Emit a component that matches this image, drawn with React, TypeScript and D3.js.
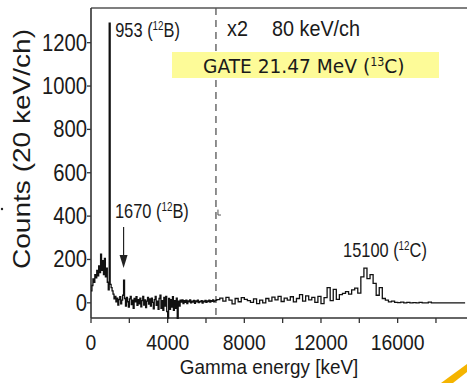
import React from 'react';
import * as d3 from 'd3';

const W = 467;
const H = 383;

// gamma spectrum below the dashed line (20 keV/ch), one value every 50 keV from 0
const lowStep = 50;
const lowCounts = [
  55, 80, 110, 95, 130, 115, 150, 125, 170, 140,
  225, 150, 195, 130, 205, 120, 160, 95, 60, 1290,
  85, 70, 55, 40, 18, 30, 5, 22, -10, 15,
  28, -5, 12, 35, 105, 20, -15, 25, 5, -20,
  18, 30, -8, 12, -25, 20, 5, 28, -12, 15,
  -5, 22, -18, 10, 30, -10, 14, -22, 8, 25,
  -6, 18, -15, 22, 2, -28, 15, 30, -12, 8,
  -30, 20, 35, -25, 10, -35, 25, -15, 30, -40,
  -70, 20, -30, 15, -20, 28, -35, 10, -25, 22,
  -75, 8, -15, 12, 3, 14, -4, 10, 2, 12,
  -3, 9, 4, 14, 0, 8, 3, 11, -2, 9,
  5, 12, 1, 7, 4, 10, -1, 8, 5, 11,
  2, 9, 6, 12, 3, 10, 7, 13, 4, 9,
  11,
];

// above the dashed line (80 keV/ch, x2), one value every 160 keV
const highStart = 6560;
const highStep = 160;
const highCounts = [
  15, 22, 8, 25, 12, -5, 20, 5, 24, 16,
  10, 2, 18, -4, 12, 0, 20, 8, 26, 14,
  30, 6, 22, 12, 28, 4, 20, 38, 8, 32,
  14, 25, 2, 30, -4, 24, 70, 10, 62, 16,
  38, 44, 52, 40, 60, 68, 45, 120, 160, 112,
  130, 90, 35, 70, 20, 12, 4, 8, 2, 1,
  3, 0, 2, 0, 1, 0, 2, 0, 0, 3,
  0, 0, 0, 0, 0, 0, 0, 0, 0, 0,
  0, 0,
];

const yTicks = [0, 200, 400, 600, 800, 1000, 1200];
const xTicks = [0, 2000, 4000, 6000, 8000, 10000, 12000, 14000, 16000, 18000];
const xTickLabels = [0, 4000, 8000, 12000, 16000];
const gateSplit = 6520;
const peakB1 = 953;
const peakB2 = 1700;
const peakC = 14300;

const FONT = '"Liberation Sans", Arial, Helvetica, sans-serif';
const GATE_FONT = '"DejaVu Sans", Verdana, sans-serif';

const Narrow = ({ x, y, sx = 0.86, size = 20, anchor = 'start', family = FONT, children }: any) => (
  <text
    transform={`translate(${x},${y}) scale(${sx},1)`}
    fontSize={size}
    textAnchor={anchor}
    fontFamily={family}
    fill="#1a1a1a"
  >
    {children}
  </text>
);

export default function App() {
  const x = d3.scaleLinear().domain([0, 20000]).range([91, 474.3]);
  const y = d3.scaleLinear().domain([-70, 1360]).range([318, 8]);

  const pts: [number, number][] = [
    ...lowCounts.map((c, i) => [i * lowStep, c] as [number, number]),
    ...highCounts.map((c, j) => [highStart + j * highStep, c] as [number, number]),
  ];
  const line = d3
    .line<[number, number]>()
    .x((d) => x(d[0]))
    .y((d) => y(d[1]))
    .curve(d3.curveStepAfter);

  const axisCol = '#333';
  const xs = x(gateSplit);
  const arrowX = x(peakB2);

  return (
    <svg
      width={W}
      height={H}
      style={{ position: 'absolute', left: 0, top: 0, background: '#fff' }}
    >
      <defs>
        <clipPath id="plot">
          <rect x={91} y={8} width={W - 91} height={311} />
        </clipPath>
      </defs>

      {/* frame */}
      <line x1={91} x2={W} y1={8} y2={8} stroke="#555" strokeWidth={1.5} />
      <line x1={91} x2={91} y1={8} y2={318} stroke={axisCol} strokeWidth={1.6} />
      <line x1={91} x2={W} y1={318} y2={318} stroke={axisCol} strokeWidth={1.6} />

      {yTicks.map((t) => (
        <g key={t}>
          <line x1={87} x2={91} y1={y(t)} y2={y(t)} stroke={axisCol} strokeWidth={1.3} />
          <Narrow x={87} y={y(t) + 8} size={23} sx={0.88} anchor="end">
            {t}
          </Narrow>
        </g>
      ))}
      {xTicks.map((t) => (
        <line key={t} x1={x(t)} x2={x(t)} y1={318} y2={323} stroke={axisCol} strokeWidth={1.3} />
      ))}
      {xTickLabels.map((t) => (
        <Narrow key={t} x={x(t)} y={350} size={22} sx={0.88} anchor="middle">
          {t}
        </Narrow>
      ))}

      <Narrow x={269} y={374} size={21} sx={0.9} anchor="middle">
        Gamma energy [keV]
      </Narrow>
      <text
        transform="translate(30,149) rotate(-90) scale(1.22,1)"
        fontSize={23}
        textAnchor="middle"
        fontFamily={FONT}
        fill="#1a1a1a"
      >
        Counts (20 keV/ch)
      </text>

      {/* x2 boundary */}
      <line x1={xs} x2={xs} y1={8} y2={318} stroke="#555" strokeWidth={1.3} strokeDasharray="7,5" />
      <path
        d={`M${xs + 2},${y(430)}V${y(405)}H${xs + 5}`}
        fill="none"
        stroke="#555"
        strokeWidth={1}
      />

      {/* spectrum */}
      <path d={line(pts) ?? ''} fill="none" stroke="#111" strokeWidth={1.3} clipPath="url(#plot)" />

      {/* peak labels */}
      <Narrow x={x(peakB1) + 6} y={37} size={20} sx={0.82}>
        953 (<tspan dy={-7} fontSize={12}>12</tspan>
        <tspan dy={7}>B)</tspan>
      </Narrow>
      <Narrow x={115} y={218} size={20} sx={0.82}>
        1670 (<tspan dy={-7} fontSize={12}>12</tspan>
        <tspan dy={7}>B)</tspan>
      </Narrow>
      <Narrow x={x(peakC) - 22} y={257} size={20} sx={0.82}>
        15100 (<tspan dy={-7} fontSize={12}>12</tspan>
        <tspan dy={7}>C)</tspan>
      </Narrow>

      <line x1={arrowX} x2={arrowX} y1={227} y2={258} stroke="#222" strokeWidth={1.2} />
      <path d={`M${arrowX - 4},${255}L${arrowX + 4},${255}L${arrowX},${268}Z`} fill="#222" />

      <Narrow x={227} y={36} size={22} sx={0.9}>
        x2
      </Narrow>
      <Narrow x={272} y={36} size={22} sx={0.9}>
        80 keV/ch
      </Narrow>

      {/* gate box */}
      <rect x={172} y={52} width={267} height={26} fill="#fdfb98" />
      <Narrow x={203} y={73} size={20} sx={0.93} family={GATE_FONT}>
        GATE 21.47 MeV (<tspan dy={-7} fontSize={12}>13</tspan>
        <tspan dy={7}>C)</tspan>
      </Narrow>

      {/* slide decoration */}
      <path d="M441,383L467,364L467,372L453,383Z" fill="#f5b400" />
      <circle cx={2} cy={209} r={1.2} fill="#222" />
    </svg>
  );
}
